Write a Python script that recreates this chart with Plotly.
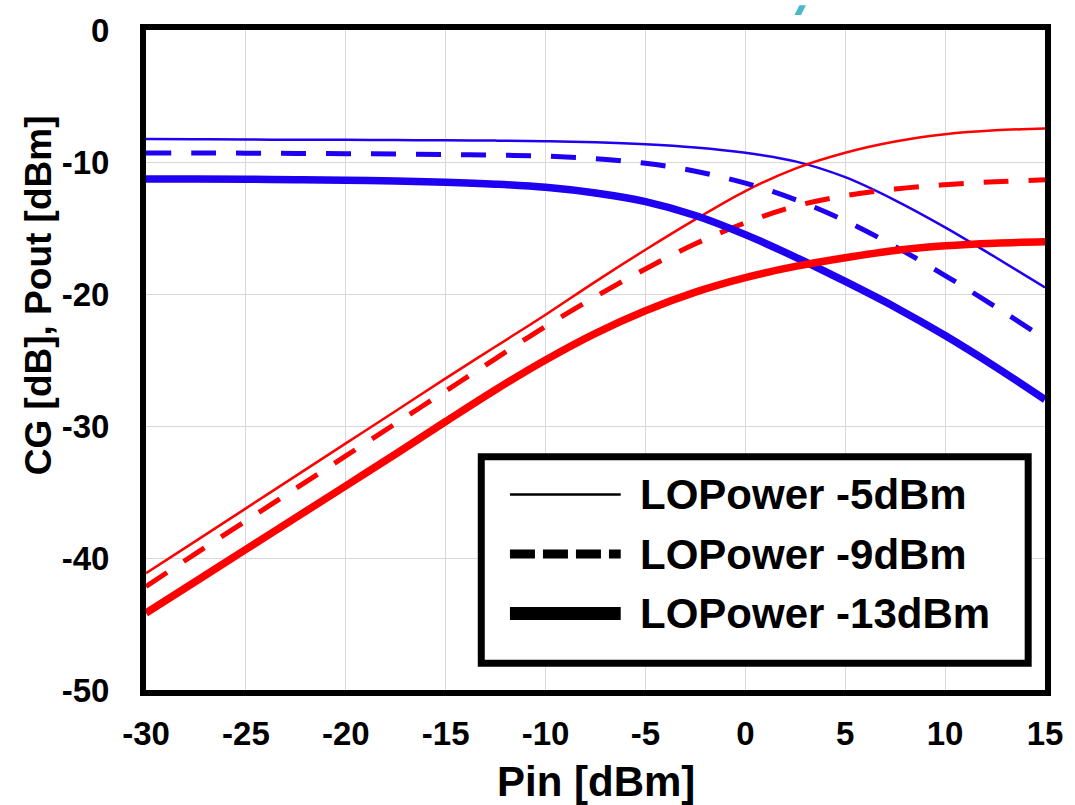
import plotly.graph_objects as go

# ---------------- data ----------------
pin = [-30, -27.5, -25, -22.5, -20, -17.5, -15, -12.5, -10, -7.5, -5, -2.5,
       0, 2.5, 5, 7.5, 10, 12.5, 15]

cg_lo5 = [-8.26, -8.28, -8.30, -8.31, -8.32, -8.34, -8.36, -8.38, -8.42, -8.50,
          -8.65, -8.90, -9.30, -9.95, -11.15, -12.90, -14.95, -17.20, -19.50]
cg_lo9 = [-9.32, -9.32, -9.33, -9.35, -9.37, -9.40, -9.43, -9.48, -9.55, -9.75,
          -10.10, -10.70, -11.60, -12.85, -14.45, -16.40, -18.60, -20.95, -23.40]
cg_lo13 = [-11.28, -11.29, -11.31, -11.34, -11.38, -11.44, -11.53, -11.68, -11.92,
           -12.35, -13.00, -14.05, -15.50, -17.20, -19.05, -21.00, -23.15, -25.50, -28.00]

pout_lo5 = [-41.16, -38.70, -36.24, -33.78, -31.32, -28.86, -26.39, -23.98, -21.57,
            -19.06, -16.65, -14.35, -12.20, -10.50, -9.30, -8.45, -7.90, -7.60, -7.47]
pout_lo9 = [-42.16, -39.65, -37.19, -34.73, -32.27, -29.81, -27.35, -24.89, -22.45,
            -20.20, -18.10, -16.20, -14.60, -13.35, -12.55, -12.05, -11.72, -11.50, -11.35]
pout_lo13 = [-44.17, -41.76, -39.35, -36.94, -34.53, -32.12, -29.66, -27.25, -25.00,
             -22.98, -21.27, -19.86, -18.76, -17.91, -17.25, -16.70, -16.35, -16.15, -16.05]

legend_labels = ["LOPower -5dBm", "LOPower -9dBm", "LOPower -13dBm"]
x_ticks = [-30, -25, -20, -15, -10, -5, 0, 5, 10, 15]
x_tick_labels = ["-30", "-25", "-20", "-15", "-10", "-5", "0", "5", "10", "15"]
y_ticks = [-50, -40, -30, -20, -10, 0]
y_tick_labels = ["-50", "-40", "-30", "-20", "-10", "0"]
x_title = "Pin [dBm]"
y_title = "CG [dB], Pout [dBm]"

# ---------------- styles ----------------
BLUE = "#2000F0"
RED = "#FF0000"
FONT = "Arial, 'Liberation Sans', sans-serif"
styles = [dict(width=2.5, dash="solid"),
          dict(width=5, dash="25px,20px"),
          dict(width=7.5, dash="solid")]

fig = go.Figure()
cg_series = [cg_lo5, cg_lo9, cg_lo13]
pout_series = [pout_lo5, pout_lo9, pout_lo13]
for i in range(3):
    fig.add_trace(go.Scatter(x=pin, y=cg_series[i], mode="lines",
                             line=dict(color=BLUE, shape="spline", smoothing=1.0, **styles[i]),
                             name="CG " + legend_labels[i], showlegend=False))
    fig.add_trace(go.Scatter(x=pin, y=pout_series[i], mode="lines",
                             line=dict(color=RED, shape="spline", smoothing=1.0, **styles[i]),
                             name="Pout " + legend_labels[i], showlegend=False))

# ---------------- paper-coordinate helpers ----------------
L, R, T, B = 146, 1055, 25, 690
def px(x):
    return (x - L) / (R - L)
def py(y):
    return (B - y) / (B - T)

shapes = []
# legend box
shapes.append(dict(type="rect", xref="paper", yref="paper",
                   x0=px(485), x1=px(1038), y0=py(663), y1=py(455),
                   line=dict(color="black", width=7), fillcolor="white", layer="above"))
leg_y = [493, 553, 613]
leg_styles = [dict(width=2.5, dash="solid"), dict(width=9, dash="25px,8px"), dict(width=13, dash="solid")]
annotations = []
for i in range(3):
    shapes.append(dict(type="line", xref="paper", yref="paper",
                       x0=px(514), x1=px(626), y0=py(leg_y[i]), y1=py(leg_y[i]),
                       line=dict(color="black", **leg_styles[i]), layer="above"))
    annotations.append(dict(xref="paper", yref="paper", x=px(643), y=py(leg_y[i]),
                            xanchor="left", yanchor="middle", showarrow=False,
                            text=legend_labels[i],
                            font=dict(family=FONT, size=42, color="black", weight="bold")))
# cyan fragment at top edge
shapes.append(dict(type="path", xref="paper", yref="paper",
                   path="M {:.4f},{:.4f} L {:.4f},{:.4f} L {:.4f},{:.4f} L {:.4f},{:.4f} Z".format(
                       px(801.7), py(10), px(808.3), py(10), px(813.3), py(0), px(806.7), py(0)),
                   fillcolor="#4BB8C8", line=dict(width=0), layer="above"))

annotations.append(dict(xref="paper", yref="paper", x=px(601), y=py(782),
                        xanchor="center", yanchor="middle", showarrow=False, text=x_title,
                        font=dict(family=FONT, size=42, color="black", weight="bold")))
annotations.append(dict(xref="paper", yref="paper", x=px(38), y=py(292),
                        xanchor="center", yanchor="middle", showarrow=False, text=y_title,
                        textangle=-90,
                        font=dict(family=FONT, size=37, color="black", weight="bold")))

axis_common = dict(showline=True, mirror=True, linecolor="black", linewidth=6,
                   showgrid=True, gridcolor="#D9D9D9", gridwidth=1.3,
                   zeroline=False, ticks="",
                   tickfont=dict(family=FONT, size=33, color="black", weight="bold"))

fig.update_layout(
    width=1075, height=805,
    margin=dict(l=L, r=1075 - R, t=T, b=805 - B),
    paper_bgcolor="white", plot_bgcolor="white",
    xaxis=dict(range=[-30, 15], tickvals=x_ticks, ticktext=x_tick_labels,
               ticklabelstandoff=9, **axis_common),
    yaxis=dict(range=[-50, 0], tickvals=y_ticks, ticktext=y_tick_labels,
               ticklabelstandoff=24, **axis_common),
    shapes=shapes, annotations=annotations, showlegend=False,
)

fig.write_html("out.html", config={"displayModeBar": False},
               post_script="document.body.style.margin='0px';document.body.style.overflow='hidden';")
